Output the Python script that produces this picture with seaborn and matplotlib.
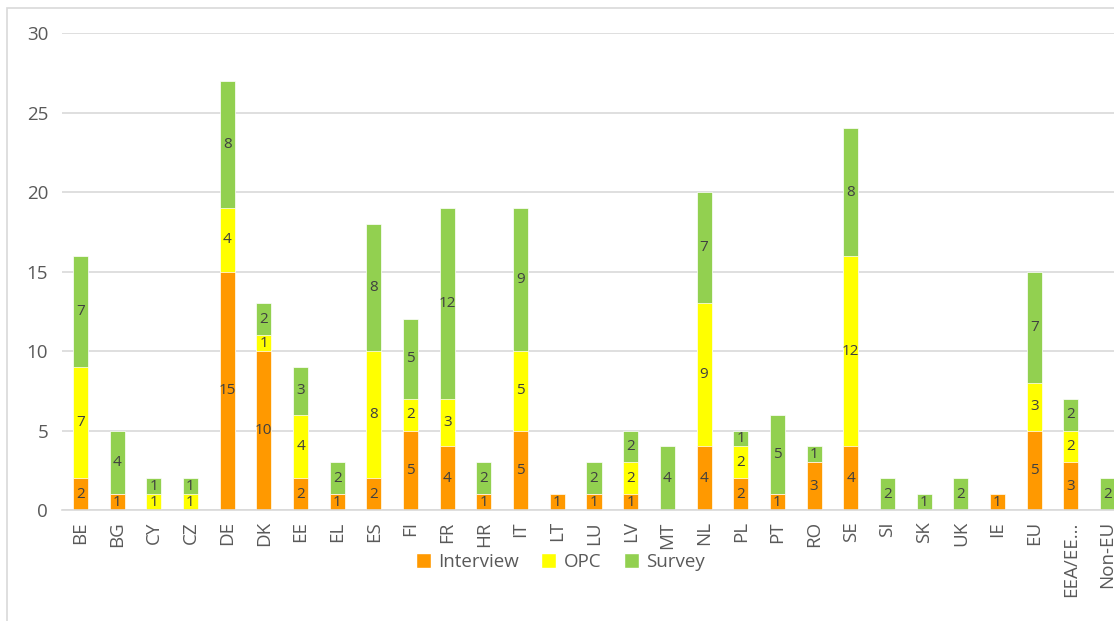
import numpy as np
import pandas as pd
import matplotlib.pyplot as plt
import seaborn as sns
from matplotlib.patches import Patch, Rectangle

sns.set_style("white")
plt.rcParams['font.family'] = ['Open Sans', 'DejaVu Sans']

# data
countries = ["BE", "BG", "CY", "CZ", "DE", "DK", "EE", "EL", "ES", "FI", "FR", "HR",
             "IT", "LT", "LU", "LV", "MT", "NL", "PL", "PT", "RO", "SE", "SI", "SK",
             "UK", "IE", "EU", "EEA/EE...", "Non-EU"]
interview = [2, 1, 0, 0, 15, 10, 2, 1, 2, 5, 4, 1, 5, 1, 1, 1, 0, 4, 2, 1, 3, 4, 0, 0, 0, 1, 5, 3, 0]
opc       = [7, 0, 1, 1, 4, 1, 4, 0, 8, 2, 3, 0, 5, 0, 0, 2, 0, 9, 2, 0, 0, 12, 0, 0, 0, 0, 3, 2, 0]
survey    = [7, 4, 1, 1, 8, 2, 3, 2, 8, 5, 12, 2, 9, 0, 2, 2, 4, 7, 1, 5, 1, 8, 2, 1, 2, 0, 7, 2, 2]

series = ["Interview", "OPC", "Survey"]
colors = {"Interview": "#FF9900", "OPC": "#FFFF00", "Survey": "#92D050"}

df = pd.DataFrame({"country": countries, "Interview": interview, "OPC": opc, "Survey": survey})
df["c1"] = df["Interview"]
df["c2"] = df["c1"] + df["OPC"]
df["c3"] = df["c2"] + df["Survey"]

fig = plt.figure(figsize=(11.14, 6.21), dpi=100)
ax = fig.add_axes([0.0557, 0.1787, 0.955, 0.7681])

# stacked bars drawn as overlaid cumulative totals
for col, name in [("c3", "Survey"), ("c2", "OPC"), ("c1", "Interview")]:
    sns.barplot(data=df, x="country", y=col, color=colors[name], width=0.41,
                saturation=1, edgecolor="white", linewidth=0.5, ax=ax)

# segment labels
for i, row in df.iterrows():
    base = 0
    for name in series:
        v = row[name]
        if v > 0:
            ax.text(i, base + v / 2, str(v), ha="center", va="center",
                    fontsize=11, color="#404040")
        base += v

ax.set_ylim(0, 30)
ax.set_xlim(-0.5, len(countries) - 0.5)
ax.set_yticks(range(0, 31, 5))
ax.yaxis.grid(True, color="#D9D9D9", linewidth=1.2)
ax.set_axisbelow(True)
for s in ["top", "right", "left"]:
    ax.spines[s].set_visible(False)
ax.spines["bottom"].set_color("#D9D9D9")
ax.spines["bottom"].set_linewidth(1.2)
ax.tick_params(axis="both", length=0, labelsize=13.5, colors="#595959")
ax.tick_params(axis="y", pad=10)
ax.tick_params(axis="x", pad=8)
plt.setp(ax.get_xticklabels(), rotation=90)
ax.set_xlabel("")
ax.set_ylabel("")

handles = [Patch(facecolor=colors[n], label=n) for n in series]
fig.legend(handles=handles, loc="center", bbox_to_anchor=(0.503, 0.095), ncol=3,
           frameon=False, fontsize=13.5, handlelength=0.8, handleheight=0.8,
           columnspacing=1.2, handletextpad=0.4, labelcolor="#595959")

# chart-area border
fig.patches.append(Rectangle((0.0065, -0.1), 1.2, 1.087, transform=fig.transFigure,
                             fill=False, edgecolor="#D9D9D9", linewidth=1.2))

fig.savefig("out.png", dpi=100)
